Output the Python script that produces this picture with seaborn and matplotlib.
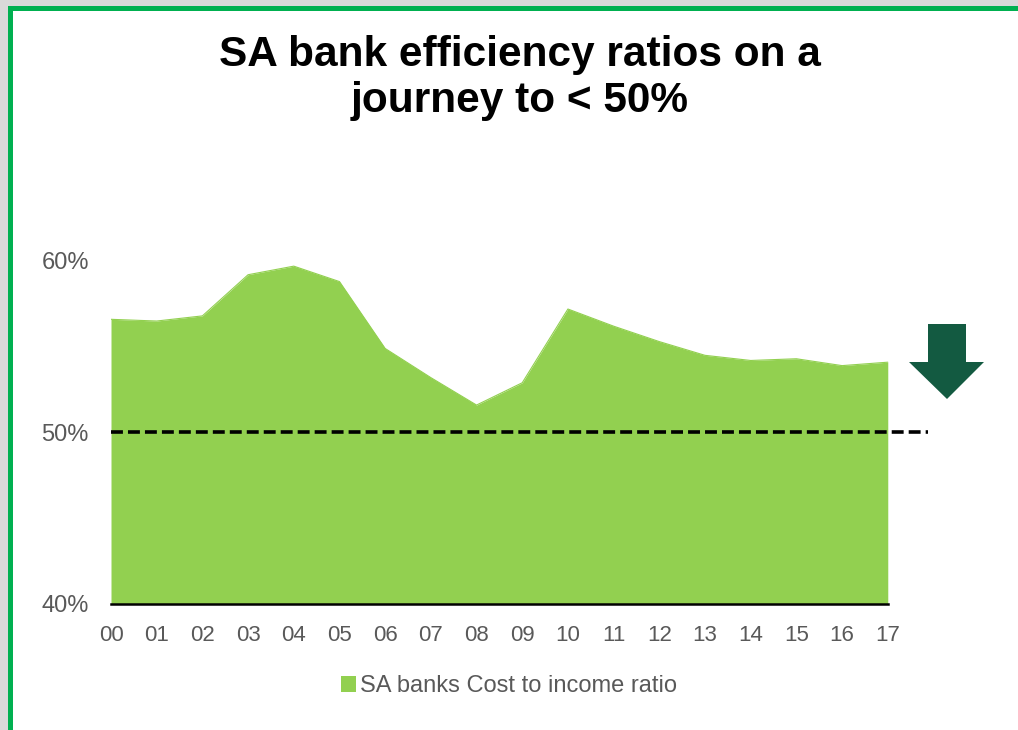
import matplotlib
matplotlib.use("Agg")
import matplotlib.pyplot as plt
from matplotlib import font_manager
from matplotlib.patches import Patch, Polygon, Rectangle
import numpy as np
import pandas as pd
import seaborn as sns

# Cost-to-income ratio of South African banks, 2000-2017 (%)
years = ["00", "01", "02", "03", "04", "05", "06", "07", "08",
         "09", "10", "11", "12", "13", "14", "15", "16", "17"]
cost_to_income = [56.6, 56.5, 56.8, 59.2, 59.7, 58.8, 54.9, 53.2, 51.6,
                  52.9, 57.2, 56.2, 55.3, 54.5, 54.2, 54.3, 53.9, 54.1]
target = 50.0
y_ticks = [40, 50, 60]
y_tick_labels = ["40%", "50%", "60%"]
series_name = "SA banks Cost to income ratio"
title_lines = ["SA bank efficiency ratios on a", "journey to < 50%"]

AREA_GREEN = "#92D050"
FRAME_GREEN = "#00B050"
ARROW_GREEN = "#135A41"
LABEL_GREY = "#595959"

sns.set_theme(style="white")
plt.rcParams["font.family"] = ["Liberation Sans", "DejaVu Sans"]

installed = {f.name for f in font_manager.fontManager.ttflist}
has_narrow = "Liberation Sans Narrow" in installed
narrow = "Liberation Sans Narrow" if has_narrow else "Liberation Sans"
xtick_size = 17.5 if has_narrow else 16

df = pd.DataFrame({"year": years, "ratio": cost_to_income})
df["pos"] = np.arange(len(df))

W, H = 1018, 730
fig = plt.figure(figsize=(W / 100, H / 100), dpi=100)
fig.patch.set_facecolor("white")

# slide frame: grey margin with a green rule along the top and left edges
fig.patches.append(Rectangle((0, 1 - 6 / H), 1, 6 / H, transform=fig.transFigure,
                             facecolor="#D9D9D9", edgecolor="none", zorder=0))
fig.patches.append(Rectangle((0, 0), 8 / W, 1, transform=fig.transFigure,
                             facecolor="#D9D9D9", edgecolor="none", zorder=0))
fig.patches.append(Rectangle((8 / W, 1 - 11 / H), 1, 5 / H, transform=fig.transFigure,
                             facecolor=FRAME_GREEN, edgecolor="none", zorder=1))
fig.patches.append(Rectangle((8 / W, 0), 5 / W, 1 - 6 / H, transform=fig.transFigure,
                             facecolor=FRAME_GREEN, edgecolor="none", zorder=1))

ax = fig.add_axes([111 / W, 1 - 604 / H, 891 / W, 343 / H])
ax.set_facecolor("none")

sns.lineplot(data=df, x="pos", y="ratio", ax=ax, color=AREA_GREEN, linewidth=0.8,
             legend=False)
ax.fill_between(df["pos"], y_ticks[0], df["ratio"], color=AREA_GREEN, linewidth=0,
                zorder=2)

# target line running past the last year
ax.hlines(target, 0, len(df) - 1 + 0.88, colors="black", linestyles=(0, (3.3, 1.4)),
          linewidth=2.6, zorder=3, clip_on=False)

ax.set_xlim(0, 19.5)
ax.set_ylim(y_ticks[0], y_ticks[-1])
ax.set_xticks(df["pos"])
ax.set_xticklabels(years, fontsize=xtick_size, color=LABEL_GREY,
                   family=[narrow, "DejaVu Sans"])
ax.set_yticks(y_ticks)
ax.set_yticklabels(y_tick_labels, fontsize=17, color=LABEL_GREY)
ax.tick_params(axis="both", length=0)
ax.tick_params(axis="x", pad=15)
ax.tick_params(axis="y", pad=16)
ax.set_xlabel("")
ax.set_ylabel("")

for side in ("top", "right", "left"):
    ax.spines[side].set_visible(False)
ax.spines["bottom"].set_bounds(0, len(df) - 1)
ax.spines["bottom"].set_color("black")
ax.spines["bottom"].set_linewidth(1.8)
ax.spines["bottom"].set_zorder(4)

# downward arrow beside the target line
def fx(px):
    return (px - 111) / 891

def fy(py):
    return (604 - py) / 343

arrow = Polygon([(fx(928), fy(324)), (fx(966), fy(324)), (fx(966), fy(362)),
                 (fx(984), fy(362)), (fx(947), fy(399)), (fx(909), fy(362)),
                 (fx(928), fy(362))],
                closed=True, transform=ax.transAxes, facecolor=ARROW_GREEN,
                edgecolor="none", clip_on=False, zorder=5)
ax.add_patch(arrow)

# title
fig.text(520 / W, 1 - 66 / H, title_lines[0], ha="center", va="baseline",
         fontsize=30.5, fontweight="bold", color="black")
fig.text(520 / W, 1 - 112 / H, title_lines[1], ha="center", va="baseline",
         fontsize=30.5, fontweight="bold", color="black")

# legend
leg = fig.legend(handles=[Patch(facecolor=AREA_GREEN, edgecolor="none", label=series_name)],
                 loc="center", bbox_to_anchor=(509 / W, 1 - 686 / H), frameon=False,
                 fontsize=17, handlelength=0.65, handleheight=0.65, handletextpad=0.15,
                 borderpad=0)
for t in leg.get_texts():
    t.set_color(LABEL_GREY)

fig.savefig("out.png", dpi=100)
